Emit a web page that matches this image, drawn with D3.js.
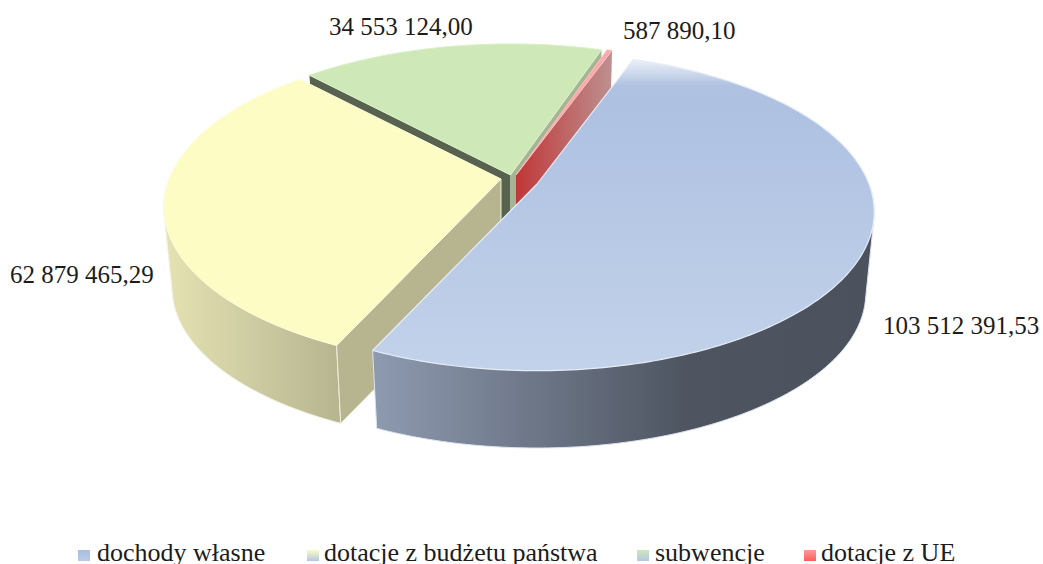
<!DOCTYPE html>
<html>
<head>
<meta charset="utf-8">
<script src="https://cdn.jsdelivr.net/npm/d3@7"></script>
<style>
	html, body { margin: 0; padding: 0; background: #fff; overflow: hidden; }
	text { font-family: "Liberation Serif", serif; font-size: 25px; fill: #1c1c1c; }
	#legend text { font-size: 26px; }
</style>
</head>
<body>
<svg id="chart" width="1043" height="564"></svg>
<script>
var categories = ["dochody własne", "dotacje z budżetu państwa", "subwencje", "dotacje z UE"];
var values = [103512391.53, 62879465.29, 34553124.00, 587890.10];

var width = 1043,
	height = 564,
	rx = 332,
	ry = 154,
	persp = 0.175,		// how much nearer the front rim is
	depth = 82,
	lowerScale = 0.975,
	firstAngle = 19.7 * Math.PI / 180;

// where each slice's tip ended up after the explode
var apex = [
	{x: 537, y: 184},
	{x: 501, y: 179},
	{x: 510.5, y: 175},
	{x: 516, y: 175}
];

var labelPos = [
	{x: 883, y: 334},
	{x: 10, y: 283},
	{x: 329, y: 35},
	{x: 623, y: 39}
];

var legendPos = [
	{x: 78, text: 97},
	{x: 307, text: 324},
	{x: 637, text: 655},
	{x: 804, text: 821}
];

var svg = d3.select("#chart");
var defs = svg.append("defs");

function linear(id, x1, y1, x2, y2, stops){
	var g = defs.append("linearGradient")
		.attr("id", id)
		.attr("gradientUnits", "userSpaceOnUse")
		.attr("x1", x1).attr("y1", y1)
		.attr("x2", x2).attr("y2", y2);
	stops.forEach(function(s){
		g.append("stop").attr("offset", s[0]).attr("stop-color", s[1]);
	});
}

linear("blueTop", 0, 56, 0, 385, [[0, "#f4f7fb"], [0.09, "#b0c2e1"], [0.16, "#aec1e1"], [1, "#c4d3eb"]]);
linear("blueSide", 378, 0, 875, 0, [[0, "#8d99af"], [0.62, "#4e5561"], [1, "#4b525e"]]);
linear("yellowSide", 168, 0, 340, 0, [[0, "#e4e1b2"], [1, "#b6b590"]]);
linear("redWall", 516, 0, 611, 0, [[0, "#c03737"], [1, "#bd8f8f"]]);
linear("legBlue", 0, 550, 0, 561, [[0, "#a9bee2"], [1, "#b9cbe8"]]);
linear("legYellow", 0, 550, 0, 561, [[0, "#fcfcc4"], [1, "#b6c6e4"]]);
linear("legGreen", 0, 550, 0, 561, [[0, "#cfe8b8"], [1, "#b6c6e4"]]);
linear("legRed", 0, 550, 0, 561, [[0, "#ff9a9a"], [1, "#ff5c5c"]]);

var legendFill = ["url(#legBlue)", "url(#legYellow)", "url(#legGreen)", "url(#legRed)"];

var pie = d3.pie()
	.sort(null)
	.startAngle(firstAngle)
	.endAngle(firstAngle + 2 * Math.PI);

var slices = pie(values);

var lineFunction = d3.line()
	.x(function(d){ return d.x; })
	.y(function(d){ return d.y; });

// angle is clockwise from the back of the pie, like d3.pie gives it
function rimPoint(i, angle, lower){
	var u = Math.sin(angle),
		v = -Math.cos(angle),
		s = 1 / (1 - persp * v),
		f = lower ? lowerScale : 1;
	return {
		x: apex[i].x + rx * u * s * f,
		y: apex[i].y + (lower ? depth : 0) + ry * v * s * f
	};
}

function tipPoint(i, lower){
	return {x: apex[i].x, y: apex[i].y + (lower ? depth : 0)};
}

function rim(i, a0, a1, lower){
	var n = Math.ceil(Math.abs(a1 - a0) * 60) + 1;
	return d3.range(n + 1).map(function(k){
		return rimPoint(i, a0 + (a1 - a0) * k / n, lower);
	});
}

function topPath(i){
	var d = slices[i];
	return lineFunction([tipPoint(i, false)].concat(rim(i, d.startAngle, d.endAngle, false))) + "Z";
}

// outer wall: hull of both rims over the front half only, so the silhouette
// runs straight between them and the chord it adds stays under the top face.
function sidePath(i){
	var d = slices[i],
		a0 = Math.max(d.startAngle, Math.PI / 2),
		a1 = Math.min(d.endAngle, 3 * Math.PI / 2);
	var pts = rim(i, a0, a1, false)
		.concat(rim(i, a0, a1, true))
		.map(function(p){ return [p.x, p.y]; });
	return "M" + d3.polygonHull(pts).join("L") + "Z";
}

function wallPath(i, angle){
	return lineFunction([
		tipPoint(i, false),
		rimPoint(i, angle, false),
		rimPoint(i, angle, true),
		tipPoint(i, true)
	]) + "Z";
}

var pieGroup = svg.append("g").attr("id", "pie");

// back to front, later slices hide the walls behind them
function face(d, fill, stroke, width){
	return pieGroup.append("path")
		.attr("d", d)
		.attr("fill", fill)
		.attr("stroke", stroke || "none")
		.attr("stroke-width", width || 0)
		.attr("stroke-linejoin", "round");
}

face(wallPath(2, slices[2].startAngle), "#58634f");
face(wallPath(2, slices[2].endAngle), "#a4b594");
face(topPath(2), "#cfe8b8", "#dcefca", 1);

face(wallPath(3, slices[3].endAngle), "url(#redWall)");
face(topPath(3), "#fca9a9", "#fcc0c0", 1);

face(sidePath(1), "url(#yellowSide)", "#f2f2e0", 1);
face(wallPath(1, slices[1].startAngle), "#b6b590", "#eeeedd", 1);
face(topPath(1), "#fcfcc4", "#fdfde0", 1);

face(sidePath(0), "url(#blueSide)", "#dde3ee", 1);
face(topPath(0), "url(#blueTop)", "#e6edf7", 1.2);

var format = d3.formatLocale({decimal: ",", thousands: " ", grouping: [3], currency: ["", ""]}).format(",.2f");

svg.append("g").attr("id", "labels")
	.selectAll("text").data(values).enter()
	.append("text")
	.attr("x", function(d, i){ return labelPos[i].x; })
	.attr("y", function(d, i){ return labelPos[i].y; })
	.text(function(d){ return format(d); });

var legend = svg.append("g").attr("id", "legend")
	.selectAll("g").data(categories).enter()
	.append("g");

legend.append("rect")
	.attr("x", function(d, i){ return legendPos[i].x; })
	.attr("y", 550)
	.attr("width", 12)
	.attr("height", 11)
	.attr("fill", function(d, i){ return legendFill[i]; });

legend.append("text")
	.attr("x", function(d, i){ return legendPos[i].text; })
	.attr("y", 561)
	.text(function(d){ return d; });
</script>
</body>
</html>
